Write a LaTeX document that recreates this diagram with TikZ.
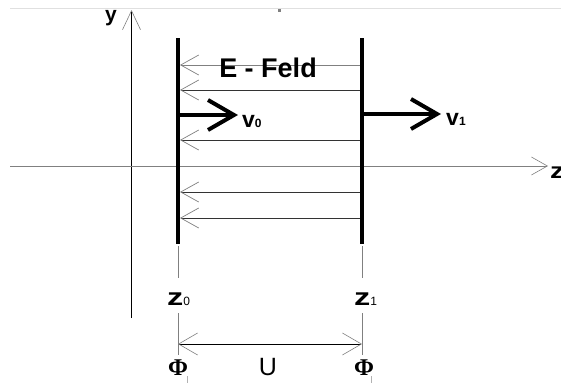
\documentclass[tikz,border=0pt]{standalone}
\usepackage{fontspec}
\setmainfont{Liberation Sans}
\newfontfamily\phifont{Liberation Serif}
\usetikzlibrary{arrows.meta}
\newcommand\mysubsz{\fontsize{12}{12}\selectfont}
\begin{document}
\begin{tikzpicture}[x=1pt,y=-1pt,
  axis/.style={line width=0.8pt},
  thinbarb/.style={-{Straight Barb[length=18pt,width=20pt,line width=0.7pt,color=gray]}},
  field/.style={thinbarb,line width=0.8pt,black!80},
  plate/.style={line width=4pt,line cap=butt},
  guide/.style={line width=0.7pt,gray},
  velo/.style={line width=4pt,-{Straight Barb[length=26pt,width=30pt,line width=4pt]}},
  lbl/.style={inner sep=0pt,font=\bfseries\fontsize{23}{23}\selectfont}
]
\useasboundingbox (0,0) rectangle (561,383);
\fill[white] (0,0) rectangle (561,383);
% top artifacts
\coordinate (tl) at (10,8);
\coordinate (tr) at (561,8);
\draw[black!12,line width=0.8pt] (tl) -- (tr);
\node[fill=gray,minimum size=3pt,inner sep=0pt] (dot) at (279,10) {};
% axes
\coordinate (ybot) at (131.5,318);
\coordinate (ytop) at (131.5,10);
\draw[axis,-{Straight Barb[length=19pt,width=18pt,line width=0.6pt,color=gray]}] (ybot) -- (ytop);
\coordinate (zl) at (10,166);
\coordinate (zr) at (548,166);
\draw[axis,gray,-{Straight Barb[length=16pt,width=18pt,line width=0.6pt,color=gray]}] (zl) -- (zr);
% plates
\coordinate (p0t) at (178,38);
\coordinate (p0b) at (178,244);
\coordinate (p1t) at (362,38);
\coordinate (p1b) at (362,244);
\draw[plate] (p0t) -- (p0b);
\draw[plate] (p1t) -- (p1b);
% field lines
\foreach \i/\yy in {1/65,2/90,3/140,4/192,5/218}{
  \coordinate (fr\i) at (360,\yy);
  \coordinate (fl\i) at (180,\yy);
}
\draw[field,gray] (fr1) -- (fl1);
\draw[field] (fr2) -- (fl2);
\draw[field] (fr3) -- (fl3);
\draw[field] (fr4) -- (fl4);
\draw[field] (fr5) -- (fl5);
\node[inner sep=0pt,anchor=base,font=\bfseries\fontsize{27}{27}\selectfont] (E) at (268,77) {E - Feld};
% velocities
\coordinate (v0s) at (178,115);
\coordinate (v0e) at (238,115);
\coordinate (v1s) at (362,114);
\coordinate (v1e) at (441,114);
\draw[velo] (v0s) -- (v0e);
\draw[velo] (v1s) -- (v1e);
\node[lbl,anchor=base west] (lv0) at (242,127) {v{\mysubsz 0}};
\node[lbl,anchor=base west] (lv1) at (446,125) {v{\mysubsz 1}};
% axis labels
\node[lbl,anchor=base,font=\bfseries\fontsize{21}{21}\selectfont] (ly) at (111,21) {y};
\node[lbl,anchor=base west,font=\bfseries\fontsize{22}{22}\selectfont] (lz) at (550,178) {\scalebox{1.3}[1]{z}};
% guides under plates
\coordinate (g0a) at (178,246);
\coordinate (g0b) at (178,278);
\coordinate (g1a) at (362,246);
\coordinate (g1b) at (362,278);
\draw[guide] (g0a) -- (g0b);
\draw[guide] (g1a) -- (g1b);
\node[lbl,anchor=base west,font=\bfseries\fontsize{24}{24}\selectfont] (lz0) at (167,305) {\scalebox{1.35}[1]{z}{\mdseries\fontsize{12}{12}\selectfont 0}};
\node[lbl,anchor=base west,font=\bfseries\fontsize{24}{24}\selectfont] (lz1) at (354,305) {\scalebox{1.35}[1]{z}{\mdseries\fontsize{12}{12}\selectfont 1}};
\coordinate (h0a) at (178,313);
\coordinate (h0b) at (178,355);
\coordinate (h1a) at (362,313);
\coordinate (h1b) at (362,355);
\draw[guide] (h0a) -- (h0b);
\draw[guide] (h1a) -- (h1b);
% dimension U
\coordinate (d0) at (178,344);
\coordinate (d1) at (362,344);
\draw[line width=0.8pt,{Straight Barb[length=19pt,width=22pt,line width=0.6pt,color=gray]}-{Straight Barb[length=19pt,width=22pt,line width=0.6pt,color=gray]}] (d0) -- (d1);
\node[inner sep=0pt,anchor=base,font=\phifont\bfseries\fontsize{24}{24}\selectfont] (phi0) at (178,375) {Φ};
\node[inner sep=0pt,anchor=base,font=\phifont\bfseries\fontsize{24}{24}\selectfont] (phi1) at (364,375) {Φ};
\node[inner sep=0pt,anchor=base,font=\fontsize{25}{25}\selectfont] (U) at (268,375) {U};
\coordinate (t0a) at (187,376);
\coordinate (t0b) at (187,383);
\coordinate (t1a) at (371,376);
\coordinate (t1b) at (371,383);
\draw[guide,gray!60] (t0a) -- (t0b);
\draw[guide,gray!60] (t1a) -- (t1b);
\end{tikzpicture}
\end{document}
